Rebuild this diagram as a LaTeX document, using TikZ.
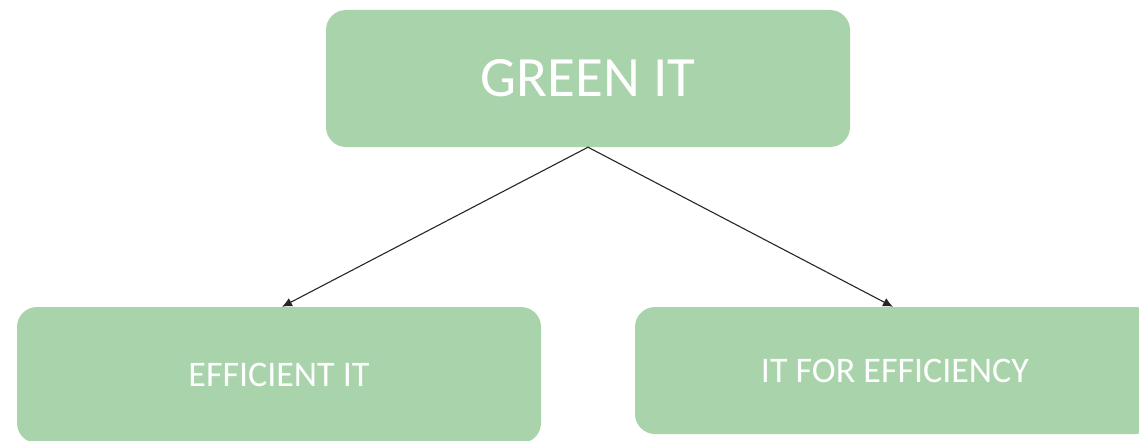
\documentclass[tikz,border=0pt]{standalone}
\usepackage{fontspec}
\setmainfont{Carlito}
\usetikzlibrary{arrows.meta}
\definecolor{boxgreen}{RGB}{169,211,171}
\begin{document}
\begin{tikzpicture}[x=1pt,y=-1pt,
  gbox/.style={fill=boxgreen, draw=none, rounded corners=20pt, text=white, inner sep=0pt, anchor=center},
  conn/.style={draw=black!85, line width=1.1pt, -{Latex[length=10pt,width=9pt]}}]
\useasboundingbox (0,0) rectangle (1139,441);
\node[gbox, minimum width=524pt, minimum height=137pt, font=\fontsize{57}{60}\selectfont] (top) at (588,78.5) {GREEN IT};
\node[gbox, minimum width=524pt, minimum height=136pt, font=\fontsize{36}{40}\selectfont] (left) at (279,375) {EFFICIENT IT};
\node[gbox, minimum width=520pt, minimum height=127pt, font=\fontsize{36}{40}\selectfont] (right) at (895,370.5) {IT FOR EFFICIENCY};
\draw[conn] (top.south) -- ([xshift=3pt]left.north);
\draw[conn] (top.south) -- ([xshift=-2pt]right.north);
\end{tikzpicture}
\end{document}
